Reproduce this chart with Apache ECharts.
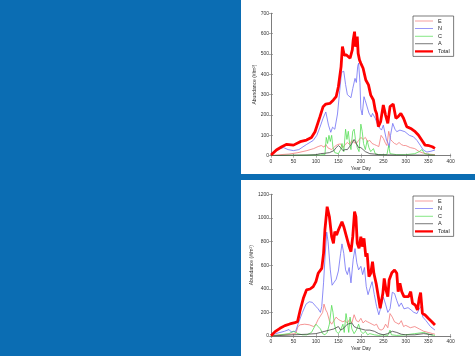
<!DOCTYPE html>
<html><head><meta charset="utf-8">
<script src="https://cdn.jsdelivr.net/npm/echarts@6/dist/echarts.min.js"></script>
<style>html,body{margin:0;padding:0;background:#0b6db3;}#c{width:475px;height:356px;}</style>
</head><body><div id="c"></div>
<script>
// ---------- data: top chart ----------
const seriesNames = ['E','N','C','A','Total'];
const xTicksTop = [0,50,100,150,200,250,300,350,400];
const yTicksTop = [0,100,200,300,400,500,600,700];
const yTicksBottom = [0,200,400,600,800,1000,1200];

const totalTop = [[0,3],[2,8],[12,28],[24,44],[35,56],[50,52],[65,69],[79,77],[90,90],[98,118],[109,192],[116,241],[122,254],[131,257],[139,274],[145,290],[150,339],[156,438],[159,536],[163,495],[168,495],[176,479],[181,520],[183,569],[186,610],[188,536],[192,585],[194,503],[197,470],[200,454],[205,430],[209,438],[211,372],[217,348],[222,298],[226,307],[228,274],[232,225],[235,208],[239,143],[244,167],[250,249],[255,200],[260,159],[265,241],[272,254],[278,184],[283,192],[289,208],[295,184],[302,143],[311,134],[321,118],[328,102],[332,110],[338,69],[343,52],[352,49],[359,44],[365,36]];
const nTop = [[0,3],[10,20],[20,35],[28,40],[38,30],[50,25],[62,30],[79,55],[94,75],[102,100],[109,140],[116,185],[122,215],[128,150],[133,115],[137,140],[142,130],[148,205],[153,320],[157,410],[162,415],[166,350],[170,300],[174,307],[178,285],[182,330],[187,380],[190,360],[193,440],[195,455],[198,360],[200,230],[203,200],[207,290],[210,270],[213,270],[218,210],[223,190],[226,208],[232,184],[239,143],[246,126],[250,150],[257,77],[261,60],[263,40],[266,100],[271,159],[276,130],[280,118],[287,126],[298,118],[308,100],[317,93],[325,75],[332,52],[339,28],[347,18],[356,22],[365,28]];
const eTop = [[0,2],[20,5],[40,8],[60,15],[80,25],[95,35],[105,45],[112,50],[118,42],[122,55],[127,38],[135,30],[142,45],[148,55],[155,58],[160,40],[165,55],[170,65],[175,55],[180,75],[185,65],[190,60],[195,75],[200,90],[205,80],[210,90],[215,70],[220,75],[225,60],[230,55],[235,50],[240,45],[245,100],[250,85],[255,60],[258,50],[262,120],[266,80],[270,70],[275,60],[280,55],[285,65],[290,55],[295,50],[300,50],[310,40],[320,35],[330,20],[340,12],[350,8],[365,5]];
const cTop = [[0,0],[40,2],[80,3],[110,4],[120,5],[123,90],[126,60],[129,100],[132,70],[135,100],[138,40],[142,15],[150,10],[155,30],[158,60],[162,20],[166,130],[169,80],[172,120],[175,60],[178,30],[182,120],[185,130],[188,80],[192,40],[196,20],[200,155],[203,120],[206,60],[210,30],[214,75],[218,40],[222,20],[228,35],[232,10],[240,5],[250,5],[258,5],[262,50],[265,10],[280,5],[300,5],[320,10],[330,20],[336,30],[342,10],[355,5],[365,2]];
const aTop = [[0,0],[40,2],[80,3],[100,5],[110,10],[120,12],[130,15],[140,25],[145,40],[150,50],[155,40],[160,25],[165,30],[170,30],[175,45],[180,60],[185,80],[190,60],[195,40],[200,40],[205,30],[210,20],[220,10],[230,8],[240,5],[260,4],[280,3],[300,3],[330,3],[365,2]];

// ---------- data: bottom chart ----------
const totalBot = [[0,3],[2,8],[9,37],[20,65],[31,88],[42,102],[53,113],[59,121],[65,220],[72,319],[79,390],[87,398],[94,418],[100,460],[105,531],[113,573],[117,700],[120,898],[125,1095],[130,1010],[135,841],[139,785],[142,884],[146,855],[150,898],[154,912],[158,968],[162,926],[168,841],[174,757],[178,714],[182,841],[186,1053],[189,1010],[192,785],[196,742],[200,841],[203,757],[207,827],[211,672],[214,700],[218,503],[222,531],[226,630],[229,531],[234,446],[239,333],[243,234],[249,362],[252,488],[256,390],[260,333],[263,474],[269,536],[275,559],[280,531],[283,376],[287,446],[291,376],[296,333],[300,319],[306,333],[311,376],[315,277],[321,263],[326,220],[330,319],[333,367],[337,192],[343,178],[350,150],[358,121],[365,93]];
const nBot = [[0,5],[10,20],[20,30],[30,40],[40,55],[45,35],[55,40],[60,100],[70,200],[78,270],[85,290],[92,285],[100,250],[105,230],[110,200],[113,250],[117,450],[120,650],[124,880],[127,800],[132,560],[136,430],[140,420],[145,480],[150,550],[155,700],[158,780],[162,700],[166,560],[170,520],[174,580],[178,450],[183,650],[187,740],[191,620],[195,560],[200,590],[204,520],[208,580],[212,420],[216,350],[220,400],[225,460],[230,350],[235,250],[240,180],[245,250],[250,330],[255,270],[260,200],[265,230],[270,370],[275,360],[280,300],[285,250],[290,280],[296,230],[305,240],[312,220],[318,200],[325,190],[330,230],[334,250],[338,160],[345,130],[355,80],[365,50]];
const eBot = [[0,5],[20,10],[40,15],[55,20],[60,80],[65,95],[75,100],[85,95],[95,80],[100,100],[105,140],[110,170],[115,200],[118,270],[122,220],[125,200],[130,130],[135,100],[140,130],[145,160],[150,140],[155,130],[160,120],[165,130],[170,110],[175,140],[180,110],[185,180],[190,130],[195,120],[200,150],[205,110],[210,130],[215,120],[220,110],[225,100],[230,90],[235,100],[240,60],[245,50],[250,60],[255,100],[260,70],[265,190],[270,160],[275,120],[280,110],[285,100],[290,130],[295,80],[300,90],[310,70],[320,80],[330,60],[335,50],[340,40],[350,30],[360,20],[365,15]];
const cBot = [[0,0],[20,10],[40,20],[50,40],[55,30],[60,20],[70,10],[80,10],[90,30],[100,100],[105,80],[110,60],[115,20],[120,10],[125,30],[130,100],[135,260],[138,200],[141,100],[145,40],[150,20],[155,50],[160,100],[163,30],[167,190],[170,120],[173,30],[176,160],[180,60],[185,20],[190,50],[195,100],[200,40],[205,20],[210,40],[215,10],[220,20],[230,10],[240,5],[250,10],[260,5],[265,50],[268,10],[280,5],[300,10],[320,20],[340,30],[355,10],[365,5]];
const aBot = [[0,0],[50,10],[80,15],[100,20],[110,30],[120,40],[130,50],[140,60],[150,80],[155,50],[160,60],[170,100],[180,110],[185,80],[190,70],[200,60],[210,50],[220,50],[230,40],[240,20],[250,10],[260,20],[270,40],[280,30],[290,15],[300,10],[320,10],[340,20],[360,10]];

// ---------- chart ----------
const FONT = 'Liberation Sans';
const colors = {E:'#f27a7a', N:'#6f6ff5', C:'#55dd55', A:'#444444', Total:'#ff0000'};
const grids = [
  {left:271, top:13.3, width:179.7, height:142.4},
  {left:271, top:194.3, width:179.7, height:141.7}
];
const chart = echarts.init(document.getElementById('c'), null, {renderer:'canvas'});

function xAxes(gi, ticks){
  const base = {type:'value', gridIndex:gi, min:ticks[0], max:ticks[ticks.length-1], interval:ticks[1]-ticks[0],
    splitLine:{show:false}, axisLine:{lineStyle:{color:'#777', width:0.8}},
    axisTick:{inside:true, length:2, lineStyle:{color:'#777', width:0.6}}};
  return [
    Object.assign({}, base, {position:'bottom', name:'Year Day', nameLocation:'middle', nameGap:10,
      nameTextStyle:{fontSize:5, color:'#333', fontFamily:FONT},
      axisLabel:{fontSize:5, color:'#333', margin:3, fontFamily:FONT}}),
    Object.assign({}, base, {position:'top', axisLabel:{show:false}})
  ];
}
function yAxes(gi, ticks){
  const base = {type:'value', gridIndex:gi, min:ticks[0], max:ticks[ticks.length-1], interval:ticks[1]-ticks[0],
    splitLine:{show:false}, axisLine:{lineStyle:{color:'#777', width:0.8}},
    axisTick:{inside:true, length:2, lineStyle:{color:'#777', width:0.6}}};
  return [
    Object.assign({}, base, {position:'left', name:'Abundance (#/m²)', nameLocation:'middle', nameGap:12,
      nameTextStyle:{fontSize:5, color:'#333', fontFamily:FONT},
      axisLabel:{fontSize:5, color:'#333', margin:2, fontFamily:FONT, formatter:function(v){return String(v);}}}),
    Object.assign({}, base, {position:'right', axisLabel:{show:false}})
  ];
}

function mk(name, data, xi, yi){
  return {name:name, type:'line', data:data, xAxisIndex:xi, yAxisIndex:yi, symbol:'none', showSymbol:false,
    color:colors[name], lineStyle:{color:colors[name], width:name==='Total'?2.8:0.8}, z:name==='Total'?5:2,
    animation:false};
}

const thinIcon = 'path://M0,0L40,0L40,1.6L0,1.6Z';
const thickIcon = 'path://M0,0L40,0L40,5L0,5Z';
const legendData = seriesNames.map(function(n){
  return {name:n, icon: n==='Total' ? thickIcon : thinIcon, itemStyle:{color:colors[n]}};
});
const legendBase = {orient:'vertical', itemWidth:18, itemHeight:5, itemGap:1.6, padding:[2,4,2,2],
  borderColor:'#444', borderWidth:0.7, backgroundColor:'#fff', data:legendData, symbolKeepAspect:true,
  textStyle:{fontSize:5.5, color:'#222', fontFamily:FONT}};

chart.setOption({
  animation:false,
  backgroundColor:'#0b6db3',
  graphic:[
    {type:'rect', shape:{x:241, y:0, width:234, height:174}, style:{fill:'#ffffff'}, z:-10},
    {type:'rect', shape:{x:241, y:180, width:234, height:176}, style:{fill:'#ffffff'}, z:-10}
  ],
  grid:grids,
  xAxis:[].concat(xAxes(0, xTicksTop), xAxes(1, xTicksTop)),
  yAxis:[].concat(yAxes(0, yTicksTop), yAxes(1, yTicksBottom)),
  legend:[
    Object.assign({}, legendBase, {left:413, top:16}),
    Object.assign({}, legendBase, {left:413, top:196})
  ],
  series:[
    mk('E', eTop, 0, 0), mk('N', nTop, 0, 0), mk('C', cTop, 0, 0), mk('A', aTop, 0, 0), mk('Total', totalTop, 0, 0),
    mk('E', eBot, 2, 2), mk('N', nBot, 2, 2), mk('C', cBot, 2, 2), mk('A', aBot, 2, 2), mk('Total', totalBot, 2, 2)
  ]
});
</script></body></html>
